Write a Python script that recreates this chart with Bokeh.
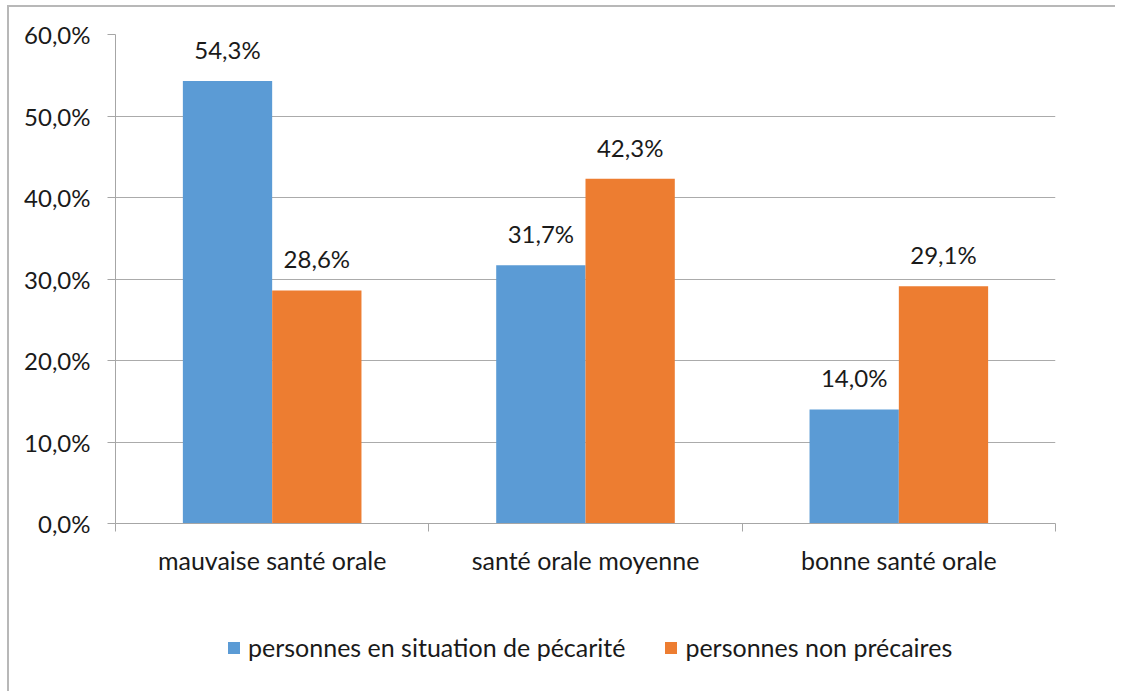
from bokeh.plotting import figure
from bokeh.layouts import column
from bokeh.models import (Range1d, FixedTicker, CustomJSTickFormatter, ColumnDataSource,
                          LabelSet, Legend, LegendItem)
from bokeh.core.properties import value
from bokeh.embed import file_html
from bokeh.resources import INLINE

categories = ["mauvaise santé orale", "santé orale moyenne", "bonne santé orale"]
series_names = ["personnes en situation de pécarité", "personnes non précaires"]
precaires = [54.3, 31.7, 14.0]
non_precaires = [28.6, 42.3, 29.1]
y_ticks = [0, 10, 20, 30, 40, 50, 60]

colors = ["#5B9BD5", "#ED7D31"]
FONT = "Lato"
TXT = "#1a1a1a"
FS = "24px"
FS2 = "25px"
W = 1106

p = figure(width=W, height=576, output_backend="svg", toolbar_location=None,
           x_range=Range1d(0, len(categories)), y_range=Range1d(0, 60),
           min_border_left=106, min_border_right=60, min_border_top=27, min_border_bottom=60)
p.outline_line_color = None
p.background_fill_color = "white"

# legend strip below the chart
lg = figure(width=W, height=108, output_backend="svg", toolbar_location=None,
            x_axis_location=None, y_axis_location=None, min_border=0,
            x_range=Range1d(0, 1), y_range=Range1d(0, 1))
lg.outline_line_color = None
lg.xgrid.grid_line_color = None
lg.ygrid.grid_line_color = None

bw = 0.285
centers = [i + 0.5 for i in range(len(categories))]
fmt = lambda v: f"{v:.1f}".replace(".", ",") + "%"
leg_rs = []
for k, (vals, col) in enumerate(zip([precaires, non_precaires], colors)):
    off = (k - 0.5) * bw
    src = ColumnDataSource(dict(x=[c + off for c in centers], top=vals,
                                lab=[fmt(v) for v in vals]))
    p.vbar(x="x", top="top", width=bw, bottom=0, source=src, fill_color=col, line_color=None)
    p.add_layout(LabelSet(x="x", y="top", text="lab", source=src, text_align="center",
                          text_baseline="bottom", y_offset=17, text_font=value(FONT),
                          text_font_size=FS, text_color=TXT))
    # proxy renderer (hidden) that carries the legend swatch
    lr = lg.vbar(x="x", top="top", width=bw, bottom=0, source=src, fill_color=col,
                 line_color=None, visible=False)
    leg_rs.append(lr)

# y axis
p.yaxis.ticker = FixedTicker(ticks=y_ticks)
p.yaxis.formatter = CustomJSTickFormatter(code="return tick.toFixed(1).replace('.', ',') + '%';")
p.yaxis.axis_line_color = "#a6a6a6"
p.yaxis.major_tick_line_color = "#a6a6a6"
p.yaxis.major_tick_out = 8
p.yaxis.major_tick_in = 0
p.yaxis.minor_tick_line_color = None
p.yaxis.major_label_text_font = FONT
p.yaxis.major_label_text_font_size = FS
p.yaxis.major_label_text_color = TXT
p.yaxis.major_label_standoff = 17

# x axis
p.xaxis.ticker = FixedTicker(ticks=centers, minor_ticks=list(range(len(categories) + 1)))
p.xaxis.major_label_overrides = {c: n for c, n in zip(centers, categories)}
p.xaxis.axis_line_color = "#a6a6a6"
p.xaxis.major_tick_line_color = None
p.xaxis.major_tick_out = 0
p.xaxis.major_tick_in = 0
p.xaxis.minor_tick_line_color = "#a6a6a6"
p.xaxis.minor_tick_out = 8
p.xaxis.minor_tick_in = 0
p.xaxis.major_label_text_font = FONT
p.xaxis.major_label_text_font_size = FS2
p.xaxis.major_label_text_color = TXT
p.xaxis.major_label_standoff = 13

p.xgrid.grid_line_color = None
p.ygrid.ticker = FixedTicker(ticks=y_ticks)
p.ygrid.grid_line_color = "#ababab"

legend = Legend(items=[LegendItem(label=n, renderers=[r]) for n, r in zip(series_names, leg_rs)],
                orientation="horizontal", location=(111, 29), padding=0, margin=0,
                border_line_color=None, background_fill_alpha=0, glyph_width=15, glyph_height=15,
                label_standoff=7, spacing=38, label_text_font=FONT, label_text_font_size=FS2,
                label_text_color=TXT)
lg.add_layout(legend, "center")

layout = column(p, lg, spacing=0)
layout.margin = (5, 0, 0, 7)
layout.styles = {"border-top": "2px solid #b8b8b8", "border-left": "2px solid #b8b8b8"}

open("out.html", "w").write(file_html(layout, INLINE))
